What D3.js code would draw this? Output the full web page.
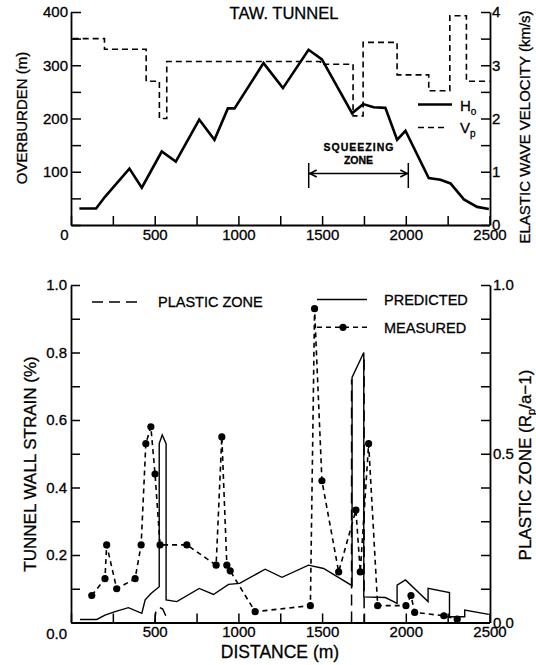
<!DOCTYPE html>
<html><head><meta charset="utf-8">
<script src="https://cdn.jsdelivr.net/npm/d3@7"></script>
<style>
body{margin:0;background:#fff}
svg text{font-family:"Liberation Sans",Arial,Helvetica,sans-serif;fill:#000;stroke:#000;stroke-width:0.3px}
</style>
</head><body>
<svg id="c" width="536" height="665"></svg>
<script>
// ---------- DATA ----------
// Top panel: overburden H_o (m) along tunnel
const overburdenDist = [50,150,203,349,423,542,626,766,857,937,977,1150,1266,1419,1499,1679,1745,1808,1878,1948,1998,2137,2207,2267,2347,2426,2496];
const overburden     = [31,31,53,106,70,138,119,198,160,219,219,304,257,329,311,210,227,221,220,160,177,88,85,78,48,34,30];
// Top panel: elastic wave velocity Vp (km/s), step segments start distance
const vpDist   = [10,200,449,528,572,1490,1685,1745,1948,2137,2263,2362,2500];
const vpValues = [3.5,3.3,2.7,2.0,3.07,3.02,2.05,3.43,2.82,2.52,3.93,2.7,2.7];
const squeezeZone = [1420, 2015];

// Bottom panel: predicted tunnel wall strain (%)
const predDist = [54,154,203,263,343,423,443,478,527,527,545,568,568,632,766,851,941,1007,1160,1260,1419,1509,1679,1679,1749,1749,1878,1948,1948,1998,2133,2133,2261,2261,2352,2352,2496];
const predicted = [0.009,0.009,0.022,0.032,0.044,0.027,0.067,0.086,0.106,0.53,0.556,0.53,0.067,0.062,0.101,0.083,0.113,0.116,0.158,0.134,0.17,0.16,0.109,0.726,0.80,0.076,0.074,0.057,0.111,0.126,0.062,0.101,0.089,0.017,0.017,0.037,0.024];
// Bottom panel: measured tunnel wall strain (%)
const measDist = [124,203,213,273,383,419,447,477,502,532,692,867,901,931,951,1100,1430,1455,1499,1599,1702,1728,1778,1832,2001,2031,2053,2227,2307];
const measured = [0.08,0.13,0.23,0.10,0.13,0.23,0.53,0.58,0.44,0.23,0.23,0.17,0.55,0.17,0.153,0.032,0.05,0.93,0.42,0.15,0.333,0.15,0.53,0.05,0.05,0.08,0.03,0.02,0.01];
// Bottom panel: plastic zone (Rp/a - 1); null = gap
const plasticDist = [500,506,528,548,566,1000,1676,1676,1700,1751,1751];
const plastic     = [0,0.03,0.045,0.04,0.02,null,0,0.72,null,0.78,0];

const distTicks = d3.range(0, 2501, 250);
const distLabels = [0,500,1000,1500,2000,2500];
const overTicks = d3.range(0, 401, 50);
const overLabels = [100,200,300,400];
const vpTicks = d3.range(0, 4.01, 0.5);
const vpLabels = [0,1,2,3,4];
const strainTicks = d3.range(0, 1.001, 0.1);
const strainLabels = [0,0.2,0.4,0.6,0.8,1.0];
const plasticLabels = [0,0.5,1.0];

(function(){
// ---------- SCALES ----------
const svg = d3.select("#c");
const x = d3.scaleLinear().domain([0,2500]).range([71,489.5]);
const yTop = d3.scaleLinear().domain([0,400]).range([225,12]);
const yVp  = d3.scaleLinear().domain([0,4]).range([225,12]);
const yBot = d3.scaleLinear().domain([0,1]).range([622.5,285]);
const yPl  = d3.scaleLinear().domain([0,1]).range([622.5,285]);

const near = (a,b)=>Math.abs(a-b)<1e-6;
function styleAxis(g, fs){
  g.select(".domain").attr("stroke","#000").attr("stroke-width",1.8);
  g.selectAll(".tick line").attr("stroke","#000").attr("stroke-width",1.5);
  g.selectAll(".tick text").attr("font-size",fs).attr("fill","#000");
}

// ---------- TOP PANEL ----------
const gT = svg.append("g");
const gxT = gT.append("g").attr("transform","translate(0,225)")
  .call(d3.axisBottom(x).tickValues(distTicks).tickSize(-9).tickSizeOuter(0).tickPadding(4)
  .tickFormat(d=>distLabels.some(v=>near(v,d))?d:""));
styleAxis(gxT,15);
gxT.selectAll(".tick text").filter(d=>d===0).attr("dx",-7);
const gyT = gT.append("g").attr("transform","translate(71,0)")
  .call(d3.axisLeft(yTop).tickValues(overTicks).tickSize(-10).tickSizeOuter(0).tickPadding(3)
  .tickFormat(d=>overLabels.some(v=>near(v,d))?d:""));
styleAxis(gyT,15);
const gyV = gT.append("g").attr("transform","translate(490,0)")
  .call(d3.axisRight(yVp).tickValues(vpTicks).tickSize(-9).tickSizeOuter(0).tickPadding(2)
  .tickFormat(d=>vpLabels.some(v=>near(v,d))?d3.format("d")(d):""));
styleAxis(gyV,15);

const vpLine = d3.line().x((d,i)=>x(vpDist[i])).y((d,i)=>yVp(vpValues[i])).curve(d3.curveStepAfter);
gT.append("path").datum(vpValues).attr("d",vpLine)
  .attr("fill","none").attr("stroke","#000").attr("stroke-width",1.6).attr("stroke-dasharray","6,4");
const hoLine = d3.line().x((d,i)=>x(overburdenDist[i])).y((d,i)=>yTop(overburden[i]));
gT.append("path").datum(overburden).attr("d",hoLine)
  .attr("fill","none").attr("stroke","#000").attr("stroke-width",2.6).attr("stroke-linejoin","miter");

gT.append("text").attr("x",284).attr("y",19).attr("text-anchor","middle").attr("font-size",16.5).text("TAW. TUNNEL");
gT.append("text").attr("transform","translate(22,118) rotate(-90)").attr("dy","0.36em")
  .attr("text-anchor","middle").attr("font-size",15).text("OVERBURDEN (m)");
gT.append("text").attr("transform","translate(525,127) rotate(-90)").attr("dy","0.36em")
  .attr("text-anchor","middle").attr("font-size",15).text("ELASTIC WAVE VELOCITY (km/s)");
gT.append("line").attr("x1",418).attr("x2",452).attr("y1",104.5).attr("y2",104.5).attr("stroke","#000").attr("stroke-width",2.4);
const tH = gT.append("text").attr("x",460).attr("y",110.5).attr("font-size",15).text("H");
tH.append("tspan").attr("font-size",10).attr("dy",4).text("o");
gT.append("line").attr("x1",418).attr("x2",448).attr("y1",127.5).attr("y2",127.5).attr("stroke","#000").attr("stroke-width",1.6).attr("stroke-dasharray","6,4");
const tV = gT.append("text").attr("x",460).attr("y",133).attr("font-size",15).text("V");
tV.append("tspan").attr("font-size",10).attr("dy",4).text("p");

const sx0 = x(squeezeZone[0]), sx1 = x(squeezeZone[1]), sy = 173.5;
gT.append("text").attr("x",(sx0+sx1)/2).attr("y",150.5).attr("text-anchor","middle")
  .attr("font-size",10.5).attr("font-weight","bold").attr("textLength",70).attr("lengthAdjust","spacing").text("SQUEEZING");
gT.append("text").attr("x",(sx0+sx1)/2).attr("y",164).attr("text-anchor","middle")
  .attr("font-size",10.5).attr("font-weight","bold").text("ZONE");
const sg = gT.append("g").attr("stroke","#000").attr("stroke-width",1.5).attr("fill","none");
sg.append("line").attr("x1",sx0).attr("x2",sx1).attr("y1",sy).attr("y2",sy);
sg.append("line").attr("x1",sx0).attr("x2",sx0).attr("y1",163).attr("y2",188);
sg.append("line").attr("x1",sx1).attr("x2",sx1).attr("y1",163).attr("y2",188);
sg.append("path").attr("d",`M${sx0+8},${sy-3.5}L${sx0+1},${sy}L${sx0+8},${sy+3.5}`);
sg.append("path").attr("d",`M${sx1-8},${sy-3.5}L${sx1-1},${sy}L${sx1-8},${sy+3.5}`);

// ---------- BOTTOM PANEL ----------
const gB = svg.append("g");
const gxB = gB.append("g").attr("transform","translate(0,622.5)")
  .call(d3.axisBottom(x).tickValues(distTicks).tickSize(-9).tickSizeOuter(0).tickPadding(4)
  .tickFormat(d=>(d>0 && distLabels.some(v=>near(v,d)))?d:""));
styleAxis(gxB,15);
const gyB = gB.append("g").attr("transform","translate(71,0)")
  .call(d3.axisLeft(yBot).tickValues(strainTicks).tickSize(-9).tickSizeOuter(0).tickPadding(4)
  .tickFormat(d=>strainLabels.some(v=>near(v,d))?d3.format(".1f")(d):""));
styleAxis(gyB,15);
gyB.selectAll(".tick text").filter(d=>near(d,0)).attr("dy","1.05em");
const gyP = gB.append("g").attr("transform","translate(490,0)")
  .call(d3.axisRight(yPl).tickValues(strainTicks).tickSize(-9).tickSizeOuter(0).tickPadding(3)
  .tickFormat(d=>plasticLabels.some(v=>near(v,d))?d3.format(".1f")(d):""));
styleAxis(gyP,15);

const plLine = d3.line().defined((d,i)=>plastic[i]!==null).x((d,i)=>x(plasticDist[i])).y((d,i)=>yPl(plastic[i]));
gB.append("path").datum(plastic).attr("d",plLine)
  .attr("fill","none").attr("stroke","#000").attr("stroke-width",1.5).attr("stroke-dasharray","11,6");
const prLine = d3.line().x((d,i)=>x(predDist[i])).y((d,i)=>yBot(predicted[i]));
gB.append("path").datum(predicted).attr("d",prLine)
  .attr("fill","none").attr("stroke","#000").attr("stroke-width",1.4).attr("stroke-linejoin","miter");
const meLine = d3.line().x((d,i)=>x(measDist[i])).y((d,i)=>yBot(measured[i]));
gB.append("path").datum(measured).attr("d",meLine)
  .attr("fill","none").attr("stroke","#000").attr("stroke-width",1.6).attr("stroke-dasharray","5,4");
gB.selectAll("circle.m").data(measured).join("circle").attr("class","m")
  .attr("cx",(d,i)=>x(measDist[i])).attr("cy",d=>yBot(d)).attr("r",3.6).attr("fill","#000");

gB.append("text").attr("x",280).attr("y",658).attr("text-anchor","middle").attr("font-size",17.5).text("DISTANCE (m)");
gB.append("text").attr("transform","translate(30,464) rotate(-90)").attr("dy","0.36em")
  .attr("text-anchor","middle").attr("font-size",17).text("TUNNEL WALL STRAIN (%)");
const rt = gB.append("text").attr("transform","translate(525,465) rotate(-90)").attr("dy","0.36em")
  .attr("text-anchor","middle").attr("font-size",17).text("PLASTIC ZONE (R");
rt.append("tspan").attr("font-size",11).attr("dy",4).text("p");
rt.append("tspan").attr("dy",-4).text("/a\u22121)");

gB.append("line").attr("x1",90).attr("x2",138).attr("y1",302).attr("y2",302)
  .attr("stroke","#000").attr("stroke-width",1.5).attr("stroke-dasharray","11,6").attr("stroke-dashoffset",-2);
gB.append("text").attr("x",158).attr("y",307.3).attr("font-size",14.5).text("PLASTIC ZONE");
gB.append("line").attr("x1",317).attr("x2",367).attr("y1",299.5).attr("y2",299.5).attr("stroke","#000").attr("stroke-width",1.4);
gB.append("text").attr("x",384).attr("y",304.8).attr("font-size",14.5).text("PREDICTED");
gB.append("line").attr("x1",317).attr("x2",367).attr("y1",327.3).attr("y2",327.3)
  .attr("stroke","#000").attr("stroke-width",1.6).attr("stroke-dasharray","5,4");
gB.append("circle").attr("cx",343).attr("cy",327.3).attr("r",3.6).attr("fill","#000");
gB.append("text").attr("x",384).attr("y",332.6).attr("font-size",14.5).text("MEASURED");
})();
</script>
</body></html>
